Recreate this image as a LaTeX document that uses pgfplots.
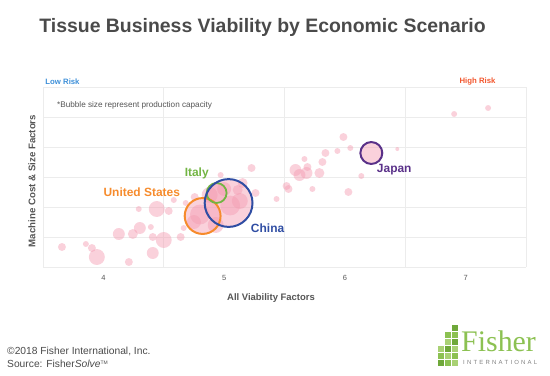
\documentclass[border=0pt]{standalone}
\usepackage{pgfplots}
\pgfplotsset{compat=1.18}
\usepackage{pgfplotstable}
\usepackage{fontspec}
\setmainfont{Liberation Sans}
\newfontfamily\seriffont{Liberation Serif}
\definecolor{pinkc}{HTML}{F39AB0}
\definecolor{gridc}{HTML}{ECECEC}
\definecolor{titlec}{HTML}{4A4A4A}
\definecolor{labc}{HTML}{555555}
\definecolor{chinac}{HTML}{2F4DA3}
\definecolor{usc}{HTML}{F68B2C}
\definecolor{italyc}{HTML}{72B443}
\definecolor{japanc}{HTML}{5A3189}
\definecolor{lowc}{HTML}{3D8FD8}
\definecolor{highc}{HTML}{F2552C}
\definecolor{fgreen}{HTML}{8CC152}
\definecolor{fgreen2}{HTML}{6FA83A}
\definecolor{fgreen3}{HTML}{A9D174}

\pgfplotstableread{
x y r
3.657 0.667 4
3.855 0.767 3
3.905 0.633 4
3.946 0.333 8
4.211 0.167 4
4.128 1.100 6
4.244 1.100 5
4.302 1.300 6
4.293 1.933 3
4.393 1.333 3
4.409 1.000 4
4.442 1.933 8
4.500 0.900 8
4.409 0.467 6
4.541 1.867 4
4.583 2.233 3
4.640 1.000 4
4.682 2.133 3
4.665 1.300 3
4.756 2.333 4
4.971 3.067 3
5.227 3.300 4
5.260 2.467 4
5.112 2.567 5
5.153 2.800 5
5.434 2.267 3
5.517 2.700 4
5.533 2.600 4
5.591 3.233 6
5.624 3.067 6
5.665 3.600 3
5.690 3.333 4
5.682 3.133 6
5.789 3.133 5
5.731 2.600 3
5.814 3.500 4
5.839 3.800 4
5.938 3.867 3
5.988 4.333 4
6.045 3.967 3
6.136 3.033 3
6.029 2.500 4
6.434 3.933 2
6.905 5.100 3
7.186 5.300 3
4.880 2.400 8
5.050 2.050 10
4.800 1.750 10
5.130 2.200 8
4.930 1.400 8
4.750 1.500 7
5.000 2.600 7
4.822 1.700 18
5.037 2.133 24
4.938 2.467 10
6.219 3.800 11
}\bubbles

\begin{document}
\begin{tikzpicture}[x=1bp,y=1bp]
\path[use as bounding box] (0,0) rectangle (550,375);
\begin{axis}[at={(43bp,108bp)}, anchor=south west, scale only axis,
  width=483bp, height=180bp,
  xmin=3.5, xmax=7.5, ymin=0, ymax=6,
  axis line style={draw=none},
  xtick={4,5,6,7}, minor xtick={3.5,4.5,5.5,6.5,7.5}, xminorgrids,
  ytick={0,1,2,3,4,5,6}, yticklabels={}, ymajorgrids,
  major tick length=0pt, minor tick length=0pt,
  major grid style={draw=gridc, line width=0.7bp},
  minor grid style={draw=gridc, line width=0.7bp},
  xticklabel style={font=\fontsize{7.5}{9}\selectfont, text=labc, anchor=center, yshift=-11bp},
  /pgf/number format/assume math mode=true,
  clip=false,
]
\addplot[scatter, only marks, mark=*,
  visualization depends on={\thisrow{r} \as \rad},
  scatter/@pre marker code/.code={\scope[mark size=\rad, draw=pinkc, draw opacity=0, fill=pinkc, fill opacity=0.45]},
  scatter/@post marker code/.code={\endscope}]
  table[x=x, y=y] {\bubbles};
\addplot[only marks, mark=o, mark size=18, mark options={draw=usc, line width=2bp}] coordinates {(4.822,1.700)};
\addplot[only marks, mark=o, mark size=10, mark options={draw=italyc, line width=1.8bp}] coordinates {(4.938,2.467)};
\addplot[only marks, mark=o, mark size=24, mark options={draw=chinac, line width=2bp}] coordinates {(5.037,2.133)};
\addplot[only marks, mark=o, mark size=11, mark options={draw=japanc, line width=2bp}] coordinates {(6.219,3.800)};
\node[font=\bfseries\fontsize{12}{14}\selectfont, text=italyc] at (axis cs:4.773,3.133) {Italy};
\node[font=\bfseries\fontsize{12}{14}\selectfont, text=usc] at (axis cs:4.318,2.500) {United States};
\node[font=\bfseries\fontsize{12}{14}\selectfont, text=chinac] at (axis cs:5.360,1.300) {China};
\node[font=\bfseries\fontsize{12}{14}\selectfont, text=japanc] at (axis cs:6.409,3.233) {Japan};
\end{axis}
% texts
\node[anchor=base, font=\bfseries\fontsize{19.5}{24}\selectfont, text=titlec] at (262.5,343) {Tissue Business Viability by Economic Scenario};
\node[font=\bfseries\fontsize{7.8}{9}\selectfont, text=lowc] at (62.5,293) {Low Risk};
\node[font=\bfseries\fontsize{7.8}{9}\selectfont, text=highc] at (477.5,293) {High Risk};
\node[anchor=west, inner sep=0, font=\fontsize{8.2}{10}\selectfont, text=labc] at (57,270) {*Bubble size represent production capacity};
\node[font=\bfseries\fontsize{9.5}{11}\selectfont, text=labc] at (271,77) {All Viability Factors};
\node[rotate=90, font=\bfseries\fontsize{9.7}{11}\selectfont, text=labc] at (32,194) {Machine Cost \& Size Factors};
\node[anchor=west, inner sep=0, font=\fontsize{10.3}{12}\selectfont, text=titlec] at (7,24) {\textcopyright2018 Fisher International, Inc.};
\node[anchor=west, inner sep=0, font=\fontsize{10.3}{12}\selectfont, text=titlec] at (7,11) {Source: Fisher\textit{Solve}\raisebox{0.6ex}{\tiny TM}};
% logo
\node[anchor=base west, inner sep=0, font=\seriffont\fontsize{30}{32}\selectfont, text=fgreen] at (461,24) {Fisher};
\node[anchor=west, inner sep=0, font=\fontsize{6}{7}\selectfont, text=gray] at (463,13) {\makebox[74bp][s]{I\hfill N\hfill T\hfill E\hfill R\hfill N\hfill A\hfill T\hfill I\hfill O\hfill N\hfill A\hfill L}};
\foreach \cx/\cy/\cc in {452/44/fgreen2, 452/37/fgreen, 452/30/fgreen2, 452/23/fgreen3, 452/16/fgreen, 452/9/fgreen3,
  445/37/fgreen, 445/30/fgreen3, 445/23/fgreen2, 445/16/fgreen3, 445/9/fgreen,
  438/23/fgreen3, 438/16/fgreen, 438/9/fgreen2}
  \fill[\cc] (\cx,\cy) rectangle ++(6,6);
\end{tikzpicture}
\end{document}
